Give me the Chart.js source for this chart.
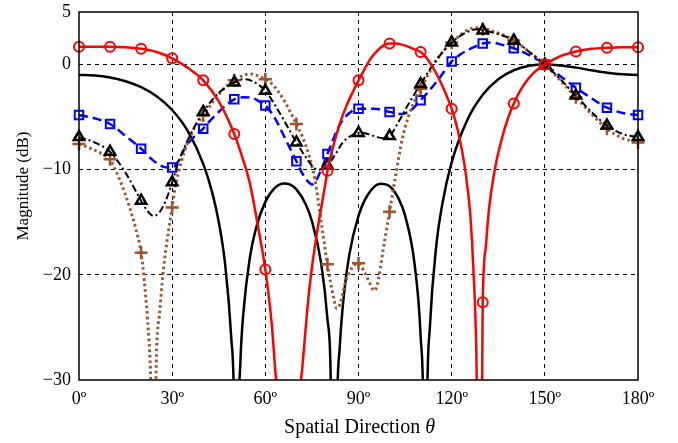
<!DOCTYPE html>
<html><head><meta charset="utf-8">
<script src="https://cdn.jsdelivr.net/npm/chart.js@4.4.0/dist/chart.umd.min.js"></script>
<style>html,body{margin:0;padding:0;background:#fff;}</style>
</head><body>
<canvas id="c" width="678" height="443"></canvas>
<script>
const xTicks = [0, 30, 60, 90, 120, 150, 180];
const yTicks = [-30, -20, -10, 0, 5];
const yTitle = 'Magnitude (dB)';
const xTitleMain = 'Spatial Direction ';
const xTitleSym = 'θ';

// black solid (no markers)
const blackTheta = [0,5,10,15,20,25,30,35,40,43,45,47,49,50,50.6,51,52,53,55,57,60,63,66,68,70,73,75,78,80,81,82.3,83,84,85,87,90,93,97,100,103,105,108,110,111,111.5,112,113,115,117,120,125,130,135,140,145,150,155,160,165,170,175,180];
const blackDb = [-0.99,-1.04,-1.23,-1.58,-2.14,-3.01,-4.32,-6.31,-9.44,-12.29,-14.97,-18.87,-25.9,-34,-60,-39.7,-28.1,-23.4,-18.4,-15.56,-13.06,-11.76,-11.31,-11.42,-11.87,-13.29,-14.9,-18.96,-24.2,-29.1,-60,-34.4,-26.7,-22.8,-18.15,-14.39,-12.38,-11.33,-11.57,-12.8,-14.37,-18.85,-25.8,-35.5,-60,-34.3,-24.9,-17.35,-13.24,-9.3,-5.29,-2.88,-1.4,-0.54,-0.12,0,-0.09,-0.29,-0.54,-0.77,-0.93,-0.99];

// red solid with circles
const redTheta = [0,5,10,15,20,25,30,35,40,45,50,52,55,58,60,62,63,64,66,68,70,71,72,73,74,75,76,77,78,79,80,82,84,86,88,90,92,94,96,98,100,102,104,106,108,110,112,114,116,118,120,122,124,125,126,127,128,129,130,131,132,134,136,138,140,142,144,146,148,150,155,160,165,170,175,180];
const redDb = [1.7,1.7,1.7,1.65,1.5,1.2,0.6,-0.3,-1.5,-3.5,-6.6,-8.3,-11.3,-16,-19.5,-24.5,-28.3,-32,-40,-43,-36,-31.5,-28.5,-25,-21.8,-19.3,-17.2,-15.3,-13.6,-11.9,-10.1,-7.6,-5.6,-4.0,-2.7,-1.5,-0.4,0.6,1.3,1.8,2.0,2.0,1.9,1.7,1.45,1.2,0.6,-0.3,-1.4,-2.7,-4.2,-6.3,-9.3,-11.5,-14.3,-19.5,-28.5,-55,-22.6,-17.3,-13.8,-9.8,-7.2,-5.2,-3.7,-2.5,-1.6,-0.9,-0.4,0,0.8,1.25,1.5,1.6,1.65,1.65];

// blue dashed with squares
const blueTheta = [0,5,10,15,20,23,27,30,32,34,36,38,40,42,45,48,50,53,56,58,60,62,64,66,68,70,72,74,75,76,78,80,82,84,86,88,90,95,100,104,107,110,113,116,120,123,126,130,133,136,140,145,150,155,160,165,170,175,180];
const blueDb = [-4.8,-5.1,-5.65,-6.8,-8.0,-8.9,-9.7,-9.8,-9.2,-8.0,-7.2,-6.6,-6.1,-5.4,-4.5,-3.7,-3.3,-3.1,-3.2,-3.5,-3.9,-4.6,-5.6,-6.8,-8.0,-9.2,-10.4,-11.2,-11.4,-11.2,-10.0,-8.5,-7.0,-5.7,-4.9,-4.4,-4.2,-4.2,-4.5,-4.7,-4.3,-3.4,-2.4,-1.3,0.3,1.0,1.5,2.0,2.1,1.9,1.55,0.9,0,-1.1,-2.2,-3.2,-4.1,-4.6,-4.8];

// black dash-dot with triangles
const ddTheta = [0,5,10,15,20,22,24,26,28,30,32,35,40,45,50,53,56,60,63,66,70,73,75,77,80,82,85,88,90,93,96,98,100,103,106,110,115,120,125,128,130,135,140,145,150,155,160,165,170,175,180];
const ddDb = [-6.9,-7.4,-8.3,-10.3,-12.95,-13.9,-14.4,-14.0,-12.9,-11.2,-9.3,-7.2,-4.5,-2.7,-1.7,-1.4,-1.6,-2.5,-3.8,-5.3,-7.4,-8.8,-9.6,-10.0,-9.6,-8.8,-7.4,-6.7,-6.5,-6.6,-6.9,-7.0,-6.8,-5.4,-3.8,-1.85,0.4,2.1,3.1,3.35,3.25,2.9,2.3,1.2,0,-1.4,-2.95,-4.5,-5.8,-6.6,-6.9];

// brown dotted with plus
const brTheta = [0,4,8,10,12,14,16,18,20,21,22,23,24,25,26,27,28,30,31,32,34,36,38,40,45,50,55,60,62,64,66,68,70,72,74,76,78,80,82,83,84,86,88,90,92,94,95,96,98,100,102,104,106,108,110,112,114,116,118,120,122,124,126,128,130,135,140,145,150,155,160,165,170,175,180];
const brDb = [-7.55,-8.0,-8.6,-9.0,-10.2,-11.6,-13.3,-15.3,-17.9,-20.5,-24,-29,-40,-27,-23.5,-20,-17.5,-13.6,-11.6,-10.3,-8.2,-6.7,-5.6,-4.85,-2.8,-1.5,-0.9,-1.4,-1.8,-2.5,-3.4,-4.5,-5.65,-6.9,-8.6,-11,-15,-19,-22.2,-23.2,-22.8,-20.5,-19.3,-18.9,-19.8,-21,-21.5,-21,-17.5,-14,-10.5,-7.2,-5,-3.5,-2.3,-1.2,-0.1,0.8,1.5,2.1,2.6,3.1,3.4,3.5,3.35,3.0,2.3,1.2,0,-1.5,-3.1,-4.7,-6.1,-7.0,-7.4];

function pts(th, db) { return th.map((t, i) => ({ x: t, y: db[i] })); }
function mk(r) { return c => (c.raw && c.raw.x % 10 === 0) ? r : 0; }
const CLIP = { left: 12, right: 12, top: 0, bottom: 0 };
const FONT = 'Liberation Serif';

function series(label, th, db, color, width, dash, style, r, pbw, order) {
  return {
    label, data: pts(th, db), borderColor: color, borderWidth: width, borderDash: dash,
    pointStyle: style, pointRadius: style ? mk(r) : 0, pointHoverRadius: 0,
    pointBorderColor: color, pointBackgroundColor: 'rgba(0,0,0,0)', pointBorderWidth: pbw,
    cubicInterpolationMode: 'monotone', fill: false, clip: CLIP, order
  };
}

const frameAndTitles = {
  id: 'frameAndTitles',
  afterDraw(chart) {
    const ctx = chart.ctx, a = chart.chartArea;
    ctx.save();
    ctx.strokeStyle = '#000'; ctx.lineWidth = 1.5; ctx.setLineDash([]);
    ctx.strokeRect(a.left, a.top, a.right - a.left, a.bottom - a.top);
    ctx.fillStyle = '#000';
    ctx.font = '17px "' + FONT + '"';
    ctx.translate(24, 186); ctx.rotate(-Math.PI / 2);
    ctx.textAlign = 'center'; ctx.textBaseline = 'middle';
    ctx.fillText(yTitle, 0, 0);
    ctx.restore();
    ctx.save();
    const n = '20px "' + FONT + '"', it = 'italic 20px "' + FONT + '"';
    ctx.font = n; const w1 = ctx.measureText(xTitleMain).width;
    ctx.font = it; const w2 = ctx.measureText(xTitleSym).width;
    const cx = (a.left + a.right) / 2 + 1;
    const x0 = cx - (w1 + w2) / 2;
    ctx.fillStyle = '#000'; ctx.textAlign = 'left'; ctx.textBaseline = 'alphabetic';
    ctx.font = n; ctx.fillText(xTitleMain, x0, 433);
    ctx.font = it; ctx.fillText(xTitleSym, x0 + w1, 433);
    ctx.restore();
  }
};

const gridColor = c => (c.tick && (c.tick.value === c.scale.min || c.tick.value === c.scale.max)) ? 'rgba(0,0,0,0)' : '#000';

new Chart(document.getElementById('c'), {
  type: 'line',
  data: {
    datasets: [
      series('black', blackTheta, blackDb, '#000000', 2.5, [], null, 0, 0, 5),
      series('blue', blueTheta, blueDb, '#0000ff', 2.5, [9, 5], 'rect', 6, 2, 4),
      series('brown', brTheta, brDb, '#a0522d', 3, [2.5, 3], 'cross', 6.5, 2.5, 3),
      series('dashdot', ddTheta, ddDb, '#000000', 2, [7, 3, 2, 3], 'triangle', 6, 2.5, 2),
      series('red', redTheta, redDb, '#ff0000', 2.5, [], 'circle', 5, 2, 1)
    ]
  },
  plugins: [frameAndTitles],
  options: {
    responsive: false, animation: false, devicePixelRatio: 1,
    layout: { padding: { top: 12, right: 40, left: 0, bottom: 0 } },
    plugins: { legend: { display: false }, tooltip: { enabled: false } },
    scales: {
      x: {
        type: 'linear', min: 0, max: 180,
        afterBuildTicks: s => { s.ticks = xTicks.map(v => ({ value: v })); },
        afterFit: s => { s.height = 63; s.paddingLeft = 0; s.paddingRight = 0; },
        ticks: { callback: v => v + 'º', font: { family: FONT, size: 18 }, color: '#000', padding: 8, maxRotation: 0, autoSkip: false },
        grid: { color: gridColor, lineWidth: 1, drawTicks: false },
        border: { display: false, dash: [4, 4] }
      },
      y: {
        type: 'linear', min: -30, max: 5,
        afterBuildTicks: s => { s.ticks = yTicks.map(v => ({ value: v })); },
        afterFit: s => { s.width = 79; s.paddingTop = 0; s.paddingBottom = 0; },
        ticks: { callback: v => (v < 0 ? '\u2212' + Math.abs(v) : '' + v), font: { family: FONT, size: 18 }, color: '#000', padding: 8, autoSkip: false },
        grid: { color: gridColor, lineWidth: 1, drawTicks: false },
        border: { display: false, dash: [4, 4] }
      }
    }
  }
});
</script>
</body></html>
